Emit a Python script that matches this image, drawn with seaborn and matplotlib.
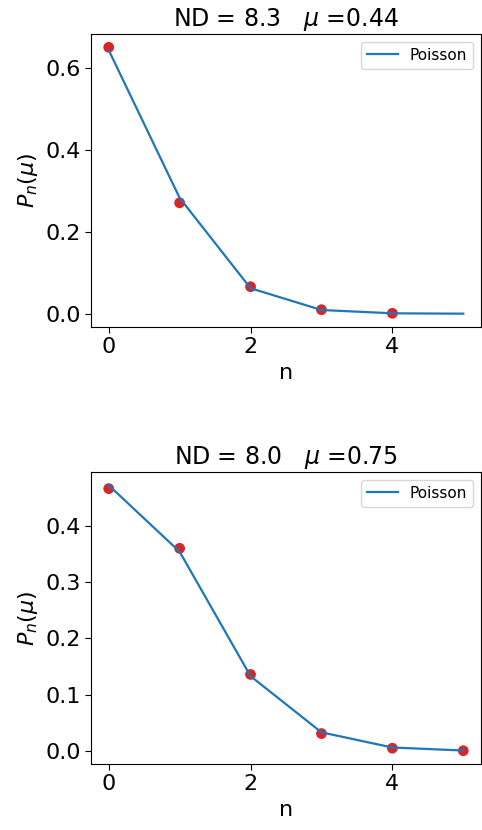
import numpy as np
import pandas as pd
import matplotlib
matplotlib.use("Agg")
import matplotlib.pyplot as plt
import seaborn as sns

plt.style.use("default")
plt.rcParams['font.family'] = ['DejaVu Sans']

n_vals = [0, 1, 2, 3, 4, 5]

# Panel 1 (ND = 8.3, mu = 0.44)
obs1_n = [0, 1, 2, 3, 4]
obs1 = [0.651, 0.271, 0.066, 0.0098, 0.001]
pois1 = [0.644, 0.283, 0.0623, 0.0091, 0.0010, 0.0001]

# Panel 2 (ND = 8.0, mu = 0.75)
obs2_n = [0, 1, 2, 3, 4, 5]
obs2 = [0.466, 0.360, 0.136, 0.031, 0.005, 0.0005]
pois2 = [0.472, 0.354, 0.133, 0.0332, 0.0062, 0.0009]

titles = ["ND = 8.3   $\\mu$ =0.44", "ND = 8.0   $\\mu$ =0.75"]

fig = plt.figure(figsize=(4.82, 8.30), dpi=100)
ax1 = fig.add_axes([91/482, 1-327/830, (481-91)/482, (327-34)/830])
ax2 = fig.add_axes([91/482, 1-764/830, (481-91)/482, (764-472)/830])

panels = [(ax1, obs1_n, obs1, pois1, titles[0], [0.0, 0.2, 0.4, 0.6]),
          (ax2, obs2_n, obs2, pois2, titles[1], [0.0, 0.1, 0.2, 0.3, 0.4])]

for ax, on, ov, pv, title, yt in panels:
    sns.lineplot(x=n_vals, y=pv, ax=ax, color="#1f77b4", label="Poisson", linewidth=1.6)
    sns.scatterplot(x=on, y=ov, ax=ax, color="#d62728", s=60, edgecolor="none", zorder=1)
    ax.set_title(title, fontsize=17)
    ax.set_xlabel("n", fontsize=16)
    ax.set_ylabel("$P_n(\\mu)$", fontsize=16)
    ax.set_xticks([0, 2, 4])
    ax.set_yticks(yt)
    ax.set_yticklabels([f"{v:.1f}" for v in yt])
    ax.tick_params(labelsize=16, direction="out", length=4)
    ax.legend(loc="upper right", fontsize=11)

fig.savefig("out.png", dpi=100)
